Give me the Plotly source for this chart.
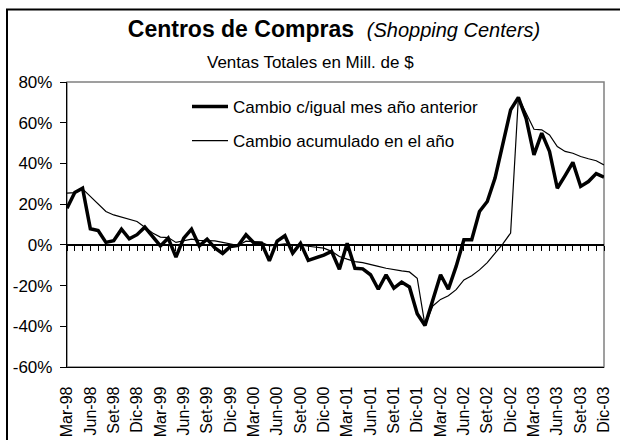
import plotly.graph_objects as go

# ---- data ----
month_names = ["Ene", "Feb", "Mar", "Abr", "May", "Jun", "Jul", "Ago", "Set", "Oct", "Nov", "Dic"]
months = []
for yr in range(1998, 2004):
    for mi, mn in enumerate(month_names):
        if yr == 1998 and mi < 2:
            continue
        months.append(f"{mn}-{str(yr)[2:]}")

tick_labels = months[::3]

yoy_change = [18, 25.7, 27.8, 7.9, 7, 1.2, 2, 7.7, 3, 5,
              8.7, 4, -0.5, 3.3, -6, 3.3, 7.7, -0.5, 2.8, -1.5, -4.2, -0.8,
              -0.3, 5, 1, 0.8, -7.8, 1.8, 4.5, -4.1, 0.8, -7.6, -6.5, -5,
              -3.2, -12, 0.8, -11.5, -11.8, -14.7, -21.8, -14.7, -21.3, -18.3, -20.7, -33.8,
              -39.6, -26.8, -14.7, -21.8, -10.6, 2.5, 2.5, 16.4, 21.3, 32.8, 49, 66.3,
              72.4, 62, 44.2, 54.9, 45.9, 27.8, 34, 40.5, 28.7, 31.1, 35, 33.3]

ytd_change = [25.4, 25.7, 27.5, 23.8, 20.1, 16.4, 14.7, 13.6, 12.8, 11.5,
              8.7, 5.8, 3.8, 3.6, 1.2, 2, 2.8, 2.2, 2.2, 2, 1.2, 0.5,
              -0.3, 1.8, 1.5, 1.2, -0.5, 0, 0.5, 0, 0, -0.7, -1.2, -1.6,
              -3.2, -5.7, -7, -8.2, -8.7, -9.5, -10.6, -11.5, -12.3, -12.8, -13.3, -16.4,
              -39.6, -30, -26.8, -25, -22, -17.2, -15.2, -12.3, -8.7, -4.1, 0.5, 5.8,
              72.4, 64.7, 56.8, 56.5, 54, 48.3, 45.9, 45, 43.4, 42.3, 41.3, 39.3]

y_ticks = [-60, -40, -20, 0, 20, 40, 60, 80]
y_tick_text = [f"{v}%" for v in y_ticks]

# ---- figure ----
W, H = 620, 440
L, R, T, B = 67, 16, 82, 73
pw, ph = W - L - R, H - T - B

def px_x(px):
    return (px - L) / pw

def px_y(py):
    return (H - B - py) / ph

fig = go.Figure()
fig.add_trace(go.Scatter(x=months, y=yoy_change, mode="lines",
                         name="Cambio c/igual mes año anterior",
                         line=dict(color="black", width=3.5),
                         legendgroup="a", xaxis="x", yaxis="y"))
fig.add_trace(go.Scatter(x=months, y=ytd_change, mode="lines",
                         name="Cambio acumulado en el año",
                         line=dict(color="black", width=1.2),
                         legendgroup="b", xaxis="x2", yaxis="y"))

font_family = "Liberation Sans, Arial, sans-serif"
zero_pos = (0 - y_ticks[0]) / (y_ticks[-1] - y_ticks[0])

fig.update_layout(
    width=W, height=H,
    margin=dict(l=L, r=R, t=T, b=B, autoexpand=False),
    paper_bgcolor="white", plot_bgcolor="white",
    font=dict(family=font_family, color="black", size=16),
    showlegend=True,
    legend=dict(x=px_x(187), y=px_y(89), xanchor="left", yanchor="top",
                bgcolor="rgba(0,0,0,0)", font=dict(size=17),
                tracegroupgap=9, itemwidth=36),
    title=dict(text="<b>Centros de Compras</b>  <i><span style='font-size:20px'>(Shopping Centers)</span></i>",
               x=334 / W, xanchor="center", xref="container",
               y=1 - 29 / H, yanchor="middle", yref="container",
               font=dict(size=23, family=font_family, color="black")),
    xaxis=dict(type="category", categoryorder="array", categoryarray=months,
               range=[0, len(months) - 1], tickmode="array", tickvals=tick_labels,
               tickangle=-90, ticks="", showline=True, linecolor="black", linewidth=1.3,
               showgrid=False, zeroline=False, ticklabelstandoff=12, automargin=False,
               tickfont=dict(size=16)),
    xaxis2=dict(type="category", categoryorder="array", categoryarray=months,
                range=[0, len(months) - 1], overlaying="x", anchor="free",
                position=zero_pos, tickmode="array", tickvals=months,
                ticks="outside", ticklen=5, tickwidth=1, tickcolor="black",
                showticklabels=False, showline=True, linecolor="black", linewidth=1.5,
                showgrid=False, zeroline=False, automargin=False),
    yaxis=dict(range=[y_ticks[0], y_ticks[-1]], tickmode="array", tickvals=y_ticks,
               ticktext=y_tick_text, ticks="outside", ticklen=6, tickcolor="black",
               showline=True, linecolor="black", linewidth=1.3, showgrid=False,
               zeroline=False, tickfont=dict(size=17), ticklabelstandoff=4,
               automargin=False),
)

# plot-area border (grey) and outer chart frame (black)
fig.add_shape(type="rect", xref="paper", yref="paper", x0=0, x1=1, y0=0, y1=1,
              line=dict(color="#808080", width=1.5), layer="below")
fig.add_shape(type="rect", xref="paper", yref="paper",
              x0=px_x(7), x1=px_x(640), y0=px_y(460), y1=px_y(9.5),
              line=dict(color="black", width=2), layer="below")

fig.add_annotation(text="Ventas Totales en Mill. de $", xref="paper", yref="paper",
                   x=px_x(310), y=px_y(62), xanchor="center", yanchor="middle",
                   showarrow=False, font=dict(size=17, family=font_family, color="black"))

fig.write_html("out.html", config={"displayModeBar": False},
               post_script="document.body.style.margin='0';document.body.style.overflow='hidden';")
